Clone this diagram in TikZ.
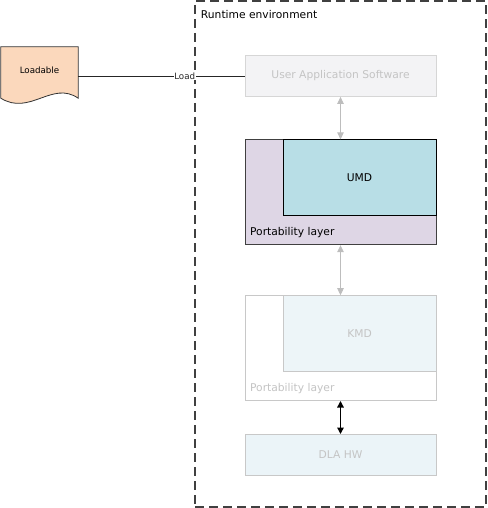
\documentclass[tikz,border=0pt]{standalone}
\usepackage{fontspec}
\setmainfont{DejaVu Sans}
\usetikzlibrary{positioning,arrows.meta,calc}

\definecolor{uasfill}{HTML}{F3F3F5}
\definecolor{uasline}{HTML}{D6D6D6}
\definecolor{porfill}{HTML}{DED6E5}
\definecolor{umdfill}{HTML}{B8DEE6}
\definecolor{kmdfill}{HTML}{EDF5F8}
\definecolor{dlafill}{HTML}{EBF4F8}
\definecolor{paleline}{HTML}{C8C8C8}
\definecolor{paletext}{HTML}{C4C4C4}
\definecolor{loadfill}{HTML}{FBD8BC}
\definecolor{arrowgrey}{HTML}{BDBDBD}

\begin{document}
\begin{tikzpicture}[
    x=1pt, y=-1pt,
    bigfont/.style={font=\fontsize{10.7}{12}\selectfont},
    smallfont/.style={font=\fontsize{8.7}{10}\selectfont},
    envbox/.style={rectangle, draw=black!75, line width=1.1pt,
        dash pattern=on 9pt off 5pt, minimum width=291pt, minimum height=506pt},
    layer/.style={rectangle, draw, line width=0.8pt, minimum width=191pt,
        minimum height=105pt, inner sep=0pt},
    inner/.style={rectangle, draw, line width=0.8pt, minimum width=153pt,
        minimum height=76pt, bigfont, anchor=north east},
    hwbox/.style={rectangle, draw, line width=0.8pt, minimum width=191pt,
        minimum height=41pt, bigfont},
    docshape/.style={rectangle, minimum width=77pt, minimum height=58pt, inner sep=0pt},
    arrowgray/.style={draw=arrowgrey, line width=0.8pt,
        {Triangle[width=6.5pt,length=7pt]}-{Triangle[width=6.5pt,length=7pt]}},
    arrowblack/.style={draw=black, line width=1.4pt,
        {Triangle[width=6.5pt,length=6.5pt]}-{Triangle[width=6.5pt,length=6.5pt]}}
]
\useasboundingbox (0,0) rectangle (487,508);

% runtime environment
\node (runtime) [envbox] at (340.5,254) {};
\node (rtlabel) [bigfont, anchor=west] at ([xshift=3pt,yshift=-14pt]runtime.north west)
    {Runtime environment};

% the stack
\node (uas) [hwbox, fill=uasfill, draw=uasline, text=paletext]
    at (340.5,76) {User Application Software};
\node (port1) [layer, fill=porfill, draw=black!75, below=42.5pt of uas] {};
\node (umd) [inner, fill=umdfill, draw=black] at (port1.north east) {UMD};
\node (port1label) [bigfont, anchor=west] at ([xshift=2pt,yshift=12.5pt]port1.south west)
    {Portability layer};

\node (port2) [layer, fill=white, draw=paleline, below=50pt of port1] {};
\node (kmd) [inner, fill=kmdfill, draw=paleline, text=paletext] at (port2.north east) {KMD};
\node (port2label) [bigfont, anchor=west, text=paletext]
    at ([xshift=2pt,yshift=12.5pt]port2.south west) {Portability layer};

\node (dla) [hwbox, fill=dlafill, draw=paleline, text=paletext,
    below=33pt of port2] {DLA HW};

\draw[arrowgray] (uas) -- (port1);
\draw[arrowgray] (port1) -- (port2);
\draw[arrowblack] (port2) -- (dla);

% loadable document
\node (loadable) [docshape] at (39.5,76) {};
\draw[fill=loadfill, draw=black!80, line width=0.8pt]
    (loadable.north west) -- (loadable.north east)
    -- ([yshift=7pt]loadable.south east)
    .. controls ($(loadable.south east)+(-26,-25)$) and ($(loadable.south west)+(29,11)$)
    .. ([yshift=7pt]loadable.south west) -- cycle;
\node (loadtext) [smallfont] at ([yshift=6pt]loadable.center) {Loadable};

\draw[black!85, line width=0.8pt] (loadable.east) -- node[pos=0.64, fill=white,
    inner sep=0.5pt, smallfont] {Load} (uas.west);

\end{tikzpicture}
\end{document}
